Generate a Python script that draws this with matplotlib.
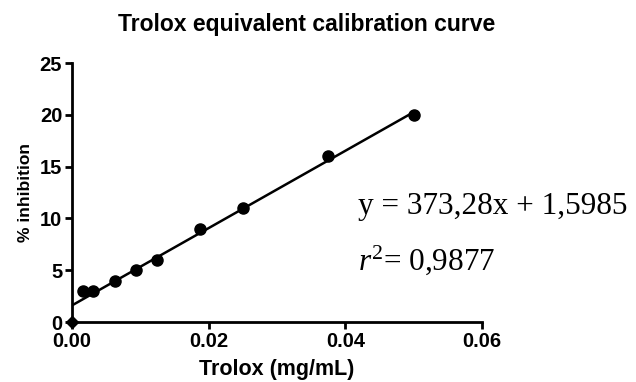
import matplotlib
matplotlib.use('Agg')
import matplotlib.pyplot as plt
import numpy as np

# calibration points
trolox = [0.0, 0.0015625, 0.003125, 0.00625, 0.009375, 0.0125, 0.01875, 0.025, 0.0375, 0.05]
inhibition = [0, 3, 3, 4, 5, 6, 9, 11, 16, 20]

slope = 373.28
intercept = 1.5985
r2_text = '0,9877'

plt.rc('font', family='Liberation Sans', weight='bold')
plt.rcParams['mathtext.fontset'] = 'custom'
plt.rcParams['mathtext.rm'] = 'Liberation Serif:weight=normal'
plt.rcParams['mathtext.it'] = 'Liberation Serif:italic:weight=normal'

fig = plt.figure(figsize=(6.36, 3.82), dpi=100)
ax = fig.add_axes([0.113, 0.157, 0.645, 0.678])

# fit line over the data range
xfit = np.array([0.0, max(trolox)])
ax.plot(xfit, slope * xfit + intercept, color='black', lw=1.8, zorder=2)

ax.plot(trolox[1:], inhibition[1:], 'o', color='black', ms=8, zorder=3)
ax.plot(trolox[:1], inhibition[:1], 'D', color='black', ms=6.5, zorder=4, clip_on=False)

ax.set_xlim(0, 0.06)
ax.set_ylim(0, 25)
ax.set_xticks([0, 0.02, 0.04, 0.06])
ax.set_xticklabels(['0.00', '0.02', '0.04', '0.06'])
ax.set_yticks([0, 5, 10, 15, 20, 25])

for s in ['top', 'right']:
    ax.spines[s].set_visible(False)
for s in ['left', 'bottom']:
    ax.spines[s].set_linewidth(2)
ax.tick_params(width=2, length=5, labelsize=14.5, direction='out', pad=2)

ax.set_xlabel('Trolox (mg/mL)', fontsize=15.5, fontweight='bold', labelpad=6)
ax.set_ylabel('% inhibition', fontsize=12.5, fontweight='bold', labelpad=5)

fig.text(0.482, 0.935, 'Trolox equivalent calibration curve', ha='center', va='center',
         fontsize=16.5, fontweight='bold')

fig.text(0.563, 0.46, 'y = 373,28x + 1,5985', family='Liberation Serif', fontweight='normal',
         fontsize=22.5, ha='left', va='center')
fig.text(0.563, 0.318, '$r^2$= ' + r2_text, family='Liberation Serif', fontweight='normal',
         fontsize=22.5, ha='left', va='center')

fig.savefig('out.png', dpi=100)
